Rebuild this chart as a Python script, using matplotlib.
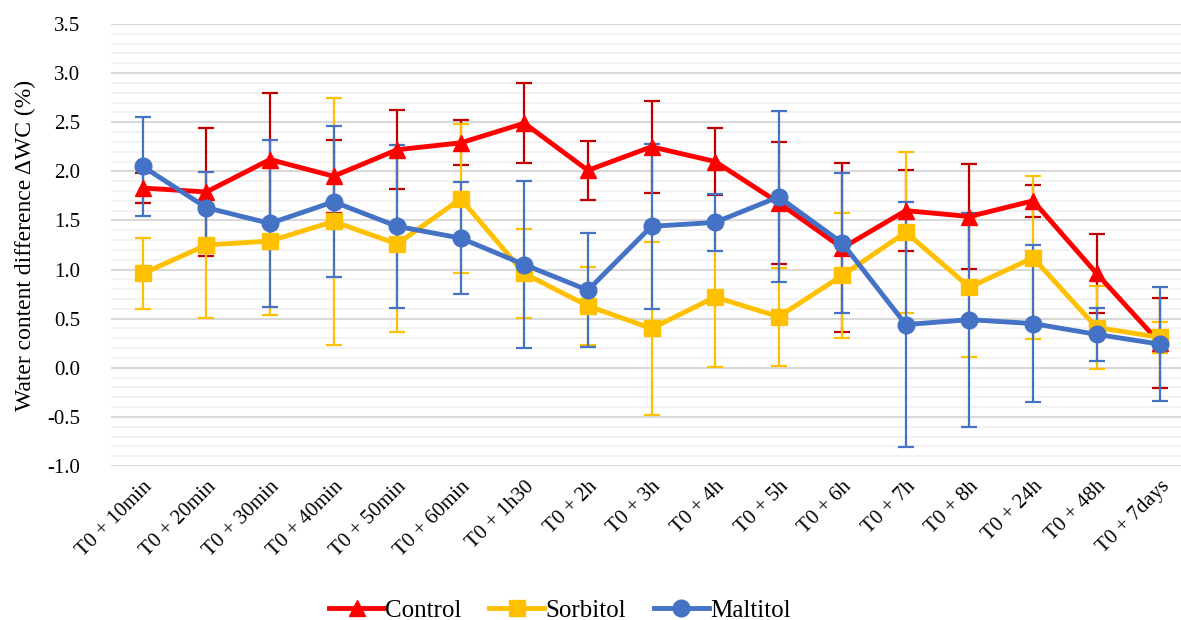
import numpy as np
import matplotlib
matplotlib.use("Agg")
import matplotlib.pyplot as plt
from matplotlib.ticker import MultipleLocator

categories = ["T0 + 10min", "T0 + 20min", "T0 + 30min", "T0 + 40min", "T0 + 50min",
              "T0 + 60min", "T0 + 1h30", "T0 + 2h", "T0 + 3h", "T0 + 4h", "T0 + 5h",
              "T0 + 6h", "T0 + 7h", "T0 + 8h", "T0 + 24h", "T0 + 48h", "T0 + 7days"]

control = [1.83, 1.79, 2.12, 1.95, 2.22, 2.29, 2.49, 2.01, 2.25, 2.10, 1.68,
           1.22, 1.60, 1.54, 1.70, 0.96, 0.25]
control_err = [0.15, 0.65, 0.68, 0.37, 0.40, 0.23, 0.41, 0.30, 0.47, 0.34, 0.62,
               0.86, 0.41, 0.53, 0.16, 0.40, 0.46]

sorbitol = [0.96, 1.25, 1.29, 1.49, 1.26, 1.72, 0.96, 0.63, 0.40, 0.72, 0.52,
            0.94, 1.38, 0.82, 1.12, 0.41, 0.31]
sorbitol_err = [0.36, 0.74, 0.75, 1.26, 0.90, 0.76, 0.45, 0.40, 0.88, 0.71, 0.50,
                0.64, 0.82, 0.71, 0.83, 0.42, 0.16]

maltitol = [2.05, 1.63, 1.47, 1.69, 1.44, 1.32, 1.05, 0.79, 1.44, 1.48, 1.74,
            1.27, 0.44, 0.49, 0.45, 0.34, 0.24]
maltitol_err = [0.50, 0.36, 0.85, 0.77, 0.83, 0.57, 0.85, 0.58, 0.84, 0.29, 0.87,
                0.71, 1.25, 1.09, 0.80, 0.27, 0.58]

plt.rcParams["font.family"] = ["Liberation Serif", "DejaVu Serif"]

fig = plt.figure(figsize=(11.81, 6.2), dpi=100)
ax = fig.add_axes([111 / 1181, 1 - 466 / 620, 1081 / 1181, (466 - 24) / 620])

x = np.arange(len(categories))
series = [
    ("Control", control, control_err, "#FF0000", "#C00000", "^", 12),
    ("Sorbitol", sorbitol, sorbitol_err, "#FFC000", "#FFC000", "s", 11),
    ("Maltitol", maltitol, maltitol_err, "#4472C4", "#4472C4", "o", 12),
]
for i, (name, vals, err, col, ecol, mk, ms) in enumerate(series):
    ax.errorbar(x, vals, yerr=err, fmt="none", ecolor=ecol, elinewidth=1.6,
                capsize=6, capthick=1.6, zorder=3 + i)
    ax.plot(x, vals, color=col, lw=3.5, marker=mk, ms=ms, label=name,
            zorder=6 + i)

ax.set_xlim(-0.5, len(categories) - 0.5)
ax.set_ylim(-1.0, 3.5)
ax.yaxis.set_major_locator(MultipleLocator(0.5))
ax.yaxis.set_minor_locator(MultipleLocator(0.1))
ax.grid(which="major", axis="y", color="#D9D9D9", lw=1.5, zorder=0)
ax.grid(which="minor", axis="y", color="#F2F2F2", lw=1.5, zorder=0)
ax.set_axisbelow(True)
for s in ax.spines.values():
    s.set_visible(False)
ax.tick_params(which="both", length=0, labelsize=15)
ax.tick_params(axis="y", pad=22)
ax.set_yticklabels([f"{v:.1f}" for v in ax.get_yticks()])
ax.set_xticks(x)
ax.set_xticklabels(categories, rotation=45, ha="right", rotation_mode="anchor")
ax.tick_params(axis="x", pad=8)
ax.set_ylabel("Water content difference ΔWC (%)", fontsize=17, labelpad=8)

fig.legend(loc="center", bbox_to_anchor=(0.474, 0.015), ncol=3,
           frameon=False, fontsize=18, handlelength=2.2, columnspacing=1.1,
           handletextpad=0.05)

fig.savefig("out.png", dpi=100)
